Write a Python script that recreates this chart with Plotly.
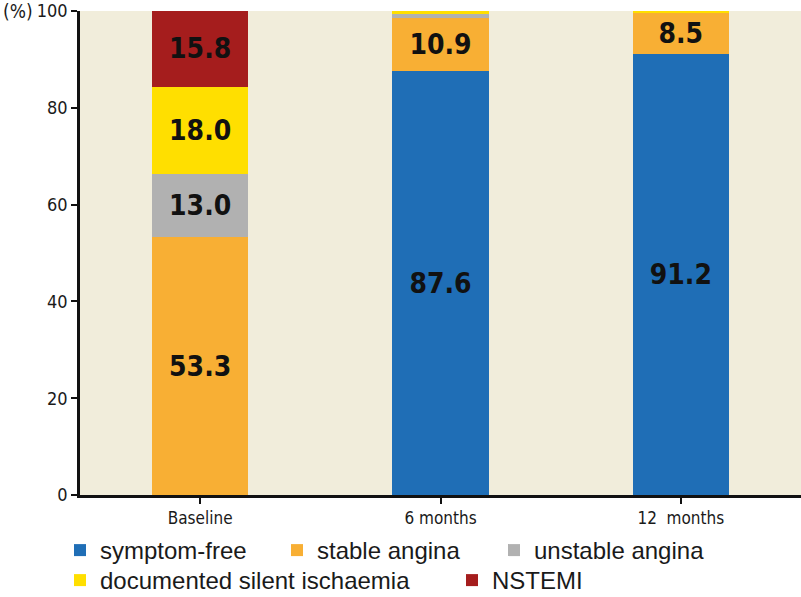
import plotly.graph_objects as go

categories = ["Baseline", "6 months", "12\u00a0 months"]
series_names = ["symptom-free", "stable angina", "unstable angina",
                "documented silent ischaemia", "NSTEMI"]
symptom_free = [0, 87.6, 91.2]
stable_angina = [53.3, 10.9, 8.5]
unstable_angina = [13.0, 0.9, 0.0]
silent_ischaemia = [18.0, 0.6, 0.3]
nstemi = [15.8, 0.0, 0.0]
labels_shown = [
    ["", "87.6", "91.2"],
    ["53.3", "10.9", "8.5"],
    ["13.0", "", ""],
    ["18.0", "", ""],
    ["15.8", "", ""],
]
colors = ["#1F6EB6", "#F8AF34", "#B1B1B1", "#FFDF00", "#A51D1D"]
values = [symptom_free, stable_angina, unstable_angina, silent_ischaemia, nstemi]
legend_ids = ["legend", "legend", "legend", "legend2", "legend3"]

cond = "DejaVu Sans Condensed, DejaVu Sans, sans-serif"
legfont = dict(family="Liberation Sans, Arial, sans-serif", size=24, color="#1a1a1a")

fig = go.Figure()
for name, vals, col, lab, lg in zip(series_names, values, colors, labels_shown, legend_ids):
    fig.add_trace(go.Bar(
        name=name, x=categories, y=vals, marker=dict(color=col, line=dict(width=0)),
        text=lab, textposition="inside", insidetextanchor="middle", textangle=0,
        textfont=dict(family=cond, size=28, color="#111111", weight="bold"),
        legend=lg, width=0.4,
    ))

leg_common = dict(orientation="h", xref="container", yref="container",
                  xanchor="left", yanchor="top", itemwidth=30,
                  font=legfont, traceorder="normal", bgcolor="rgba(0,0,0,0)")

fig.update_layout(
    barmode="stack",
    width=801, height=597,
    margin=dict(l=80, r=0, t=11, b=102, autoexpand=False),
    paper_bgcolor="white",
    plot_bgcolor="#F1EDDB",
    uniformtext=dict(minsize=28, mode="show"),
    showlegend=True,
    legend=dict(x=60/801, y=1-528/597, entrywidth=172, entrywidthmode="pixels", **leg_common),
    legend2=dict(x=60/801, y=1-558/597, **leg_common),
    legend3=dict(x=452/801, y=1-558/597, **leg_common),
    bargap=0.6,
)
fig.update_yaxes(range=[0, 100], tickvals=[0, 20, 40, 60, 80, 100], automargin=False,
                 ticklabeloverflow="allow",
                 showgrid=False, zeroline=False, showline=True, linecolor="#111111",
                 linewidth=2.5, ticks="outside", ticklen=6, tickwidth=2, tickcolor="#111111",
                 tickfont=dict(family=cond, size=18, color="#1a1a1a"))
fig.update_xaxes(showgrid=False, showline=True, linecolor="#111111", linewidth=2.5,
                 automargin=False,
                 ticks="outside", ticklen=6, tickwidth=2, tickcolor="#111111",
                 tickfont=dict(family=cond, size=17, color="#1a1a1a"))
fig.add_annotation(text="(%)", xref="paper", yref="paper", x=0, y=1, xshift=-45,
                   xanchor="right", yanchor="middle", showarrow=False,
                   font=dict(family=cond, size=19, color="#1a1a1a"))

post = """
document.body.style.margin = '0';
var s = document.createElement('style');
s.textContent = '.xtick text, .ytick text, .bartext, .annotation-text { font-stretch: condensed !important; }';
document.head.appendChild(s);
"""
fig.write_html("out.html", post_script=post, config={"displayModeBar": False})
